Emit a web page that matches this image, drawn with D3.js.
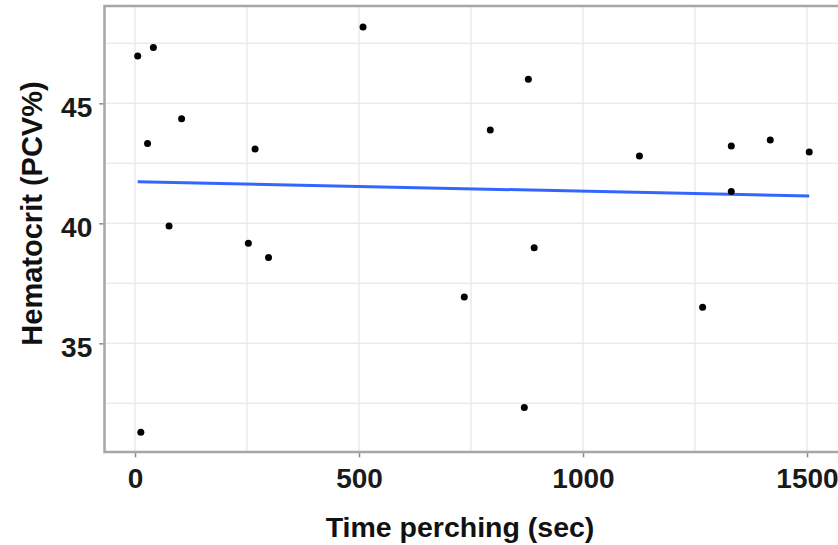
<!DOCTYPE html>
<html><head><meta charset="utf-8">
<script src="https://cdn.jsdelivr.net/npm/d3@7"></script>
<style>body{margin:0;background:#fff}svg{display:block}</style>
</head><body>
<svg id="c" width="838" height="545"></svg>
<script>
const timeSec = [6, 41, 104, 28, 268, 76, 253, 298, 509, 13, 878, 793, 891, 735, 869, 1126, 1331, 1418, 1505, 1331, 1267];
const hematocrit = [46.97, 47.32, 44.36, 43.33, 43.10, 39.89, 39.17, 38.57, 48.18, 31.29, 46.0, 43.89, 38.98, 36.93, 32.33, 42.80, 43.22, 43.47, 42.97, 41.32, 36.5];
const fitX = [6, 1505];
const fitY = [41.73, 41.14];
const xTicks = [0, 500, 1000, 1500];
const xMinor = [250, 750, 1250];
const yTicks = [35, 40, 45];
const yMinor = [32.5, 37.5, 42.5, 47.5];

const svg = d3.select("#c");
const L = 104.5, T = 6, B = 452, R = 845;
const x = d3.scaleLinear().domain([0, 1500]).range([135, 807]);
const y = d3.scaleLinear().domain([35, 45]).range([343.3, 103.3]);

svg.append("rect").attr("x", L).attr("y", T).attr("width", R - L).attr("height", B - T).attr("fill", "#fff");
const g = svg.append("g");
const gridC = "#ebebeb";
g.selectAll(".xm").data(xMinor.concat(xTicks)).join("line")
  .attr("x1", d => x(d)).attr("x2", d => x(d)).attr("y1", T).attr("y2", B)
  .attr("stroke", gridC).attr("stroke-width", 1.5);
g.selectAll(".ym").data(yMinor.concat(yTicks)).join("line")
  .attr("y1", d => y(d)).attr("y2", d => y(d)).attr("x1", L).attr("x2", R)
  .attr("stroke", gridC).attr("stroke-width", 1.5);

// fit line
svg.append("path").datum(fitX.map((d, i) => [d, fitY[i]]))
  .attr("d", d3.line().x(d => x(d[0])).y(d => y(d[1])))
  .attr("fill", "none").attr("stroke", "#3366FF").attr("stroke-width", 3);

// points
svg.selectAll("circle").data(timeSec.map((d, i) => [d, hematocrit[i]])).join("circle")
  .attr("cx", d => x(d[0])).attr("cy", d => y(d[1])).attr("r", 3.5).attr("fill", "#000");

// border
svg.append("rect").attr("x", L).attr("y", T).attr("width", R - L).attr("height", B - T)
  .attr("fill", "none").attr("stroke", "#a6a6a6").attr("stroke-width", 2.5);

// axes
const font = "'Liberation Sans', Arial, sans-serif";
const xa = svg.append("g").attr("transform", `translate(0,${B + 1.25})`)
  .call(d3.axisBottom(x).tickValues(xTicks).tickSize(4).tickPadding(6).tickFormat(d3.format("d")));
xa.select(".domain").remove();
xa.selectAll("line").attr("stroke", "#888").attr("stroke-width", 1.5);
xa.selectAll("text").attr("font-family", font).attr("font-size", 28).attr("font-weight", "bold").attr("fill", "#1a1a1a")
  .attr("dy", null).attr("y", 35);

const ya = svg.append("g").attr("transform", `translate(${L - 1.25},0)`)
  .call(d3.axisLeft(y).tickValues(yTicks).tickSize(4).tickPadding(7));
ya.select(".domain").remove();
ya.selectAll("line").attr("stroke", "#888").attr("stroke-width", 1.5);
ya.selectAll("text").attr("font-family", font).attr("font-size", 28).attr("font-weight", "bold").attr("fill", "#1a1a1a")
  .attr("dy", null).attr("x", -11).attr("y", 13);

svg.append("text").attr("x", 460).attr("y", 537).attr("text-anchor", "middle")
  .attr("font-family", font).attr("font-size", 28.5).attr("font-weight", "bold").attr("fill", "#111")
  .text("Time perching (sec)");
svg.append("text").attr("transform", "translate(42,213.5) rotate(-90)").attr("text-anchor", "middle")
  .attr("font-family", font).attr("font-size", 29).attr("font-weight", "bold").attr("fill", "#111")
  .text("Hematocrit (PCV%)");
</script>
</body></html>
